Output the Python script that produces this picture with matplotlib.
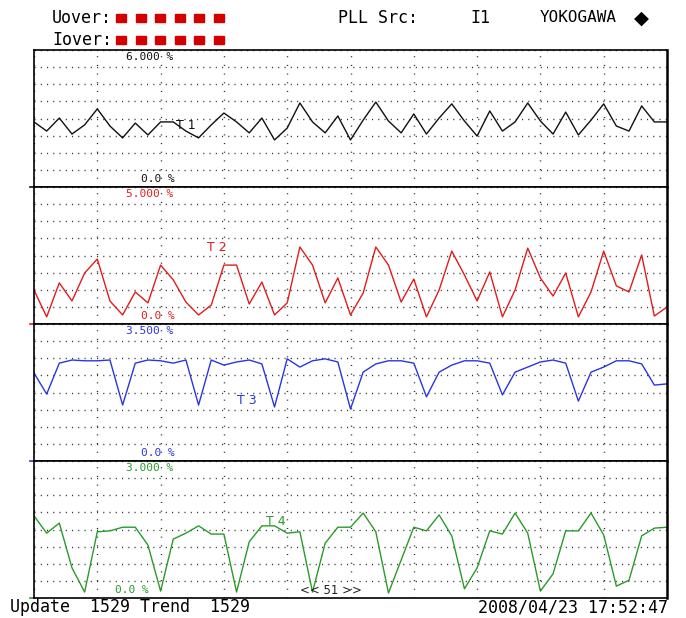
import numpy as np
import matplotlib
matplotlib.use("Agg")
import matplotlib.pyplot as plt
from matplotlib.patches import Rectangle

# trend values in %, 51 samples per channel
trend_t1 = [2.85, 2.45, 3.02, 2.32, 2.72, 3.42, 2.67, 2.15, 2.80, 2.28,
            2.85, 2.85, 2.45, 2.15, 2.72, 3.24, 2.85, 2.37, 3.02, 2.06,
            2.58, 3.68, 2.85, 2.37, 3.11, 2.06, 2.93, 3.72, 2.89, 2.37,
            3.20, 2.32, 3.02, 3.64, 2.89, 2.23, 3.33, 2.45, 2.85, 3.68,
            2.89, 2.32, 3.28, 2.28, 2.93, 3.64, 2.67, 2.45, 3.55, 2.85, 2.85]
trend_t2 = [1.24, 0.26, 1.50, 0.84, 1.86, 2.37, 0.84, 0.33, 1.17, 0.77,
            2.15, 1.61, 0.80, 0.33, 0.69, 2.15, 2.15, 0.73, 1.53, 0.33,
            0.77, 2.81, 2.15, 0.77, 1.68, 0.33, 1.13, 2.81, 2.15, 0.80,
            1.64, 0.26, 1.24, 2.66, 1.79, 0.84, 1.90, 0.26, 1.24, 2.77,
            1.68, 1.02, 1.86, 0.26, 1.17, 2.66, 1.39, 1.17, 2.52, 0.29, 0.62]
trend_t3 = [2.25, 1.71, 2.50, 2.58, 2.56, 2.56, 2.58, 1.43, 2.50, 2.58,
            2.56, 2.50, 2.58, 1.43, 2.58, 2.45, 2.53, 2.58, 2.48, 1.38,
            2.61, 2.40, 2.56, 2.61, 2.53, 1.33, 2.27, 2.48, 2.56, 2.56,
            2.50, 1.64, 2.27, 2.45, 2.56, 2.56, 2.50, 1.69, 2.27, 2.40,
            2.53, 2.58, 2.50, 1.53, 2.27, 2.40, 2.56, 2.56, 2.48, 1.94, 1.97]
trend_t4 = [1.80, 1.42, 1.64, 0.66, 0.13, 1.45, 1.47, 1.55, 1.55, 1.16,
            0.15, 1.29, 1.42, 1.58, 1.40, 1.40, 0.13, 1.23, 1.58, 1.58,
            1.42, 1.45, 0.13, 1.20, 1.55, 1.55, 1.86, 1.45, 0.11, 0.83,
            1.55, 1.47, 1.82, 1.36, 0.20, 0.66, 1.47, 1.40, 1.86, 1.42,
            0.15, 0.53, 1.47, 1.47, 1.86, 1.38, 0.26, 0.39, 1.36, 1.53, 1.55]

full_scale = [6.0, 5.0, 3.5, 3.0]
top_labels = ["6.000 %", "5.000 %", "3.500 %", "3.000 %"]
bottom_labels = ["0.0 %", "0.0 %", "0.0 %", "0.0 %"]
trace_names = ["T 1", "T 2", "T 3", "T 4"]
colors = ["#111111", "#e01c1c", "#2a35e0", "#2a9a2a"]

MONO = "DejaVu Sans Mono"


def main():
    traces = [trend_t1, trend_t2, trend_t3, trend_t4]
    fig = plt.figure(figsize=(6.86, 6.18), dpi=100)

    left, width = 34 / 686, 633 / 686
    panel_h = 137 / 618
    top = 1 - 50 / 618
    name_pos = [(0.240, 0.45), (0.289, 0.555), (0.336, 0.445), (0.382, 0.555)]
    zero_x = [0.196, 0.196, 0.196, 0.155]

    for i, vals in enumerate(traces):
        ax = fig.add_axes([left, top - (i + 1) * panel_h, width, panel_h])
        n = len(vals)
        ax.plot(np.arange(n), vals, color=colors[i], lw=1.0)
        ax.set_xlim(0, n - 1)
        ax.set_ylim(0, full_scale[i])
        ax.set_xticks(np.arange(0, n, 5))
        ax.set_yticks(np.linspace(0, full_scale[i], 9))
        ax.xaxis.grid(True, color="#333333", lw=1.0, linestyle=(0, (0.8, 5.45)))
        ax.yaxis.grid(True, color="#333333", lw=1.0, linestyle=(0, (0.8, 3.7)))
        ax.set_axisbelow(True)
        ax.tick_params(length=0, labelbottom=False, labelleft=False)
        for sp in ax.spines.values():
            sp.set_linewidth(1.2)
        ax.spines["right"].set_linewidth(1.8)

        ax.text(0.183, 0.95, top_labels[i], transform=ax.transAxes, color=colors[i],
                fontsize=8, family=MONO, ha="center", va="center")
        ax.text(zero_x[i], 0.06, bottom_labels[i], transform=ax.transAxes, color=colors[i],
                fontsize=8, family=MONO, ha="center", va="center")
        ax.text(name_pos[i][0], name_pos[i][1], trace_names[i], transform=ax.transAxes,
                color=colors[i], fontsize=9, ha="center", va="center")
        # zero-level marker on the left edge
        ax.plot([-0.007, 0], [0, 0], transform=ax.transAxes, color=colors[i],
                lw=1.2, clip_on=False)
        if i == 3:
            ax.text(0.469, 0.058, "<< 51 >>", transform=ax.transAxes, color="#222222",
                    fontsize=8.5, ha="center", va="center")

    # header
    fig.text(52 / 686, 1 - 18 / 618, "Uover:", family=MONO, fontsize=12, va="center")
    fig.text(52 / 686, 1 - 40 / 618, "Iover:", family=MONO, fontsize=12, va="center")
    for row_y in (18, 40):
        for k in range(6):
            x0 = (116 + k * 19.5) / 686
            fig.add_artist(Rectangle((x0, 1 - (row_y + 3.5) / 618), 10 / 686, 7.5 / 618,
                                     color="#d40000", transform=fig.transFigure))
    fig.text(338 / 686, 1 - 18 / 618, "PLL Src:", family=MONO, fontsize=12, va="center")
    fig.text(470 / 686, 1 - 18 / 618, "I1", family=MONO, fontsize=12, va="center")
    fig.text(540 / 686, 1 - 18 / 618, "YOKOGAWA", family=MONO, fontsize=11.5, va="center")
    fig.text(641 / 686, 1 - 18 / 618, "\u25c6", fontsize=14, va="center", ha="center")

    # footer
    fig.text(10 / 686, 1 - 607 / 618, "Update  1529 Trend  1529", family=MONO,
             fontsize=12, va="center")
    fig.text(668 / 686, 1 - 607 / 618, "2008/04/23 17:52:47", family=MONO,
             fontsize=12, va="center", ha="right")

    fig.savefig("out.png", dpi=100, facecolor="white")


if __name__ == '__main__':
    main()
